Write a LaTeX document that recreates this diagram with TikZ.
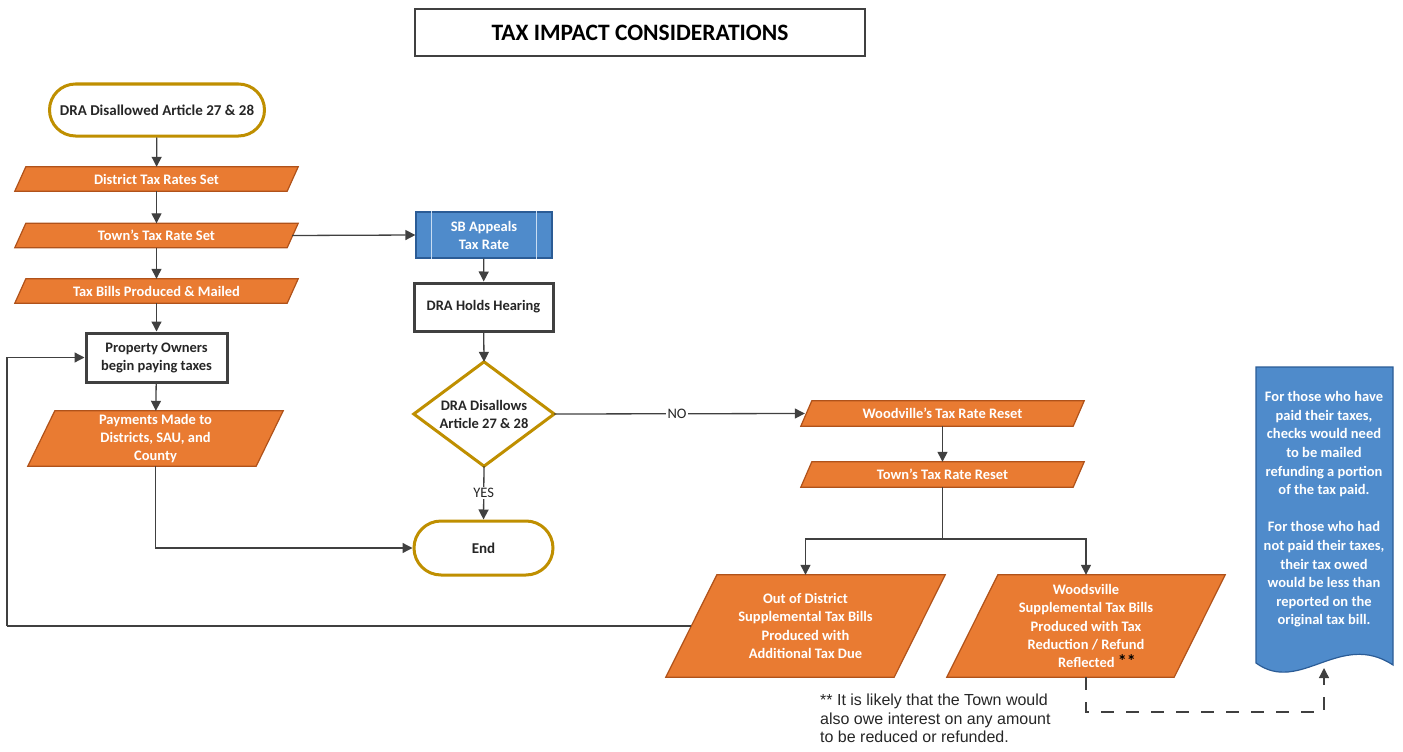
\documentclass[tikz,border=0pt]{standalone}
\usepackage{fontspec}
\setmainfont{Carlito}
\newfontfamily\arialfont{Liberation Sans}
\usetikzlibrary{arrows.meta,backgrounds}
\definecolor{orfill}{HTML}{E97B32}
\definecolor{oredge}{HTML}{B0521A}
\definecolor{goldc}{HTML}{BF8F00}
\definecolor{linegray}{HTML}{404040}
\definecolor{darktext}{HTML}{262626}
\definecolor{bluefill}{HTML}{4F8BCB}
\definecolor{blueedge}{HTML}{2B5C96}
\definecolor{bluelight}{HTML}{C9DDF2}
\tikzset{
  conn/.style={draw=linegray, line width=1.3pt, -{Triangle[length=10pt,width=10pt]}},
  plainline/.style={draw=linegray, line width=1.3pt},
  dashconn/.style={draw=linegray, line width=1.3pt, dash pattern=on 13pt off 12pt, -{Triangle[length=10pt,width=10pt]}},
  paratext/.style={text=white, font=\bfseries\fontsize{14.5}{18.3}\selectfont, align=center, inner sep=0pt},
  parashape/.style={fill=orfill, draw=oredge, line width=1.2pt},
  darkbox/.style={draw=linegray, line width=3pt, fill=white, text=darktext, font=\bfseries\fontsize{14.5}{18}\selectfont, align=center, inner sep=0pt},
  terminal/.style={draw=goldc, line width=3pt, fill=white, text=darktext, font=\bfseries\fontsize{15}{18}\selectfont, align=center, inner sep=0pt},
  lbl/.style={fill=white, text=darktext, font=\fontsize{14.5}{16}\selectfont, inner sep=1.5pt},
}
\newcommand\paranode[7]{%
  \node[paratext, minimum width=#4pt, minimum height=#5pt] (#1) at (#2,#3) {#7};
  \begin{pgfonlayer}{background}
    \path[parashape] ([xshift=#6pt]#1.north west) -- (#1.north east) -- ([xshift=-#6pt]#1.south east) -- (#1.south west) -- cycle;
  \end{pgfonlayer}}
\begin{document}
\begin{tikzpicture}[x=1pt,y=-1pt]
\useasboundingbox (0,0) rectangle (1403,752);

% title
\node[draw=linegray, line width=2.5pt, minimum width=450pt, minimum height=47pt, inner sep=0pt,
      font=\bfseries\fontsize{23.5}{26}\selectfont] (title) at (640,32.5) {TAX IMPACT CONSIDERATIONS};

% left column
\node[terminal, rounded corners=26pt, minimum width=215pt, minimum height=52pt] (start) at (157,110) {DRA Disallowed Article 27 \& 28};
\paranode{dist}{156.5}{179}{283}{24}{11}{District Tax Rates Set}
\paranode{town}{156.5}{235.5}{283}{24}{11}{Town’s Tax Rate Set}
\paranode{bills}{156.5}{291}{283}{24}{11}{Tax Bills Produced \& Mailed}
\node[darkbox, minimum width=141pt, minimum height=49pt] (owners) at (156.5,357.5) {Property Owners\\begin paying taxes};
\paranode{pay}{155.5}{438.5}{255}{55}{27}{Payments Made to\\Districts, SAU, and\\County}

% middle column
\node[fill=bluefill, draw=blueedge, line width=1.2pt, minimum width=136pt, minimum height=46pt, inner sep=0pt,
      text=white, font=\bfseries\fontsize{14.5}{18}\selectfont, align=center] (sb) at (484,235) {SB Appeals\\Tax Rate};
\draw[bluelight, line width=1.5pt] ([xshift=16pt]sb.north west) -- ([xshift=16pt]sb.south west);
\draw[bluelight, line width=1.5pt] ([xshift=-16pt]sb.north east) -- ([xshift=-16pt]sb.south east);
\node[darkbox, minimum width=139pt, minimum height=48pt] (hear) at (483.5,307) {DRA Holds Hearing};
\node[minimum width=140pt, minimum height=104pt, inner sep=0pt, text=darktext, align=center,
      font=\bfseries\fontsize{14.5}{18}\selectfont] (dec) at (484,414) {DRA Disallows\\Article 27 \& 28};
\begin{pgfonlayer}{background}
  \path[draw=goldc, line width=3pt, fill=white, line join=miter] (dec.north) -- (dec.east) -- (dec.south) -- (dec.west) -- cycle;
\end{pgfonlayer}
\node[terminal, rounded corners=27pt, minimum width=139pt, minimum height=54pt] (end) at (483.5,548) {End};

% right column
\paranode{wood}{942.5}{413.5}{283}{25}{11}{Woodville’s Tax Rate Reset}
\paranode{treset}{942.5}{474.5}{283}{25}{11}{Town’s Tax Rate Reset}
\paranode{ood}{805.5}{626}{279}{102}{51}{Out of District\\Supplemental Tax Bills\\Produced with\\Additional Tax Due}
\paranode{wsv}{1086}{626}{278}{102}{51}{Woodsville\\Supplemental Tax Bills\\Produced with Tax\\Reduction / Refund\\\hspace*{22pt}Reflected {\color{black}\fontsize{18}{18}\selectfont**}}

% banner
\node[text=white, font=\bfseries\fontsize{14.5}{18.6}\selectfont, align=center, inner sep=0pt] (banner) at (1324,509.5)
  {For those who have\\paid their taxes,\\checks would need\\to be mailed\\refunding a portion\\of the tax paid.\\[18.6pt]For those who had\\not paid their taxes,\\their tax owed\\would be less than\\reported on the\\original tax bill.};
\begin{pgfonlayer}{background}
  \path[fill=bluefill, draw=blueedge, line width=1.2pt] (1256,367) -- (1393,367) -- (1393,665)
     .. controls (1340,630) and (1300,695) .. (1256,663) -- cycle;
\end{pgfonlayer}
\coordinate (bannerbot) at (1324,668);

% footnote
\node[anchor=north west, align=left, inner sep=0pt, font=\arialfont\fontsize{16}{18.5}\selectfont, text=darktext] (note) at (820,694)
  {** It is likely that the Town would\\also owe interest on any amount\\to be reduced or refunded.};

% connectors
\draw[conn] (start) -- (dist);
\draw[conn] (dist) -- (town);
\draw[conn] (town) -- (bills);
\draw[conn] (bills) -- (owners);
\draw[conn] (owners) -- (pay);
\draw[conn] (pay.south) |- (end.west);
\draw[conn] ([xshift=-6pt]town.east) -- (sb.west);
\draw[conn] (sb) -- (hear);
\draw[conn] (hear) -- (dec.north);
\draw[conn] (dec.south) -- (end.north) node[lbl, pos=0.5] {YES};
\draw[conn] (dec.east) -- ([xshift=4pt]wood.west) node[lbl, pos=0.49] {NO};
\draw[conn] (wood) -- (treset);
\coordinate (split) at (942.5,539);
\draw[plainline] (treset.south) -- (split);
\draw[conn] (split) -| (ood.north);
\draw[conn] (split) -| (wsv.north);
\coordinate (loopx) at (7,626);
\draw[plainline] ([xshift=25pt]ood.west) -- (loopx);
\draw[conn] (loopx) |- (owners.west);
\draw[dashconn] (wsv.south) |- (1324,712) -- (bannerbot);
\end{tikzpicture}
\end{document}
